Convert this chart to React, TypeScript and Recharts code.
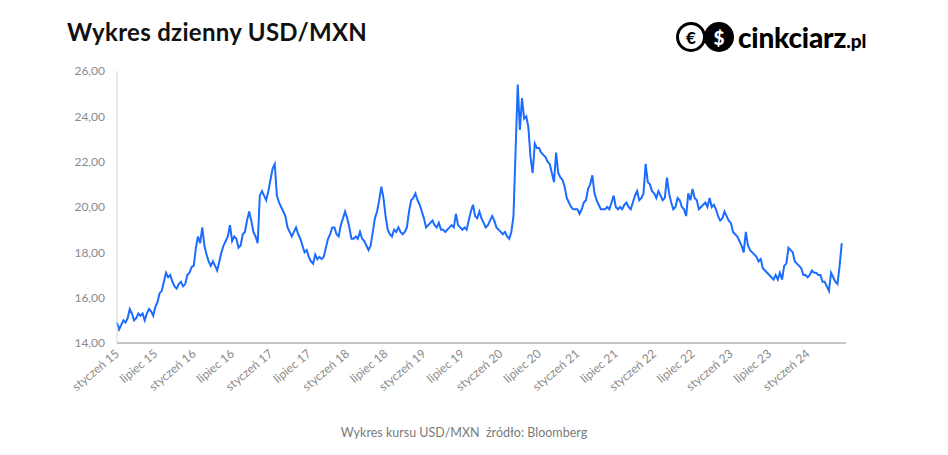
import React from 'react';
import { LineChart, Line, XAxis, YAxis } from 'recharts';

// USD/MXN, three readings a month (around the 1st, 11th and 21st)
const v2015 = [14.9, 14.6, 14.8, 15.0, 14.9, 15.1, 15.5, 15.3, 15.0, 15.1, 15.3, 15.2, 15.3, 15.0, 15.3, 15.5, 15.4, 15.2, 15.6, 15.8, 16.2, 16.3, 16.7, 17.1, 16.9, 17.0, 16.7, 16.5, 16.4, 16.6, 16.7, 16.5, 16.6, 17.0, 17.1, 17.35];
const v2016 = [17.4, 18.2, 18.7, 18.4, 19.1, 18.3, 17.9, 17.6, 17.4, 17.6, 17.4, 17.2, 17.6, 18.0, 18.3, 18.5, 18.7, 19.2, 18.5, 18.7, 18.6, 18.2, 18.3, 18.8, 18.9, 19.4, 19.8, 19.4, 18.9, 18.7, 18.4, 20.5, 20.7, 20.5, 20.3, 20.7];
const v2017 = [21.2, 21.7, 21.9, 20.5, 20.2, 20.0, 19.8, 19.6, 19.1, 18.9, 18.7, 18.9, 19.1, 18.8, 18.6, 18.3, 18.0, 18.1, 17.8, 17.6, 17.5, 17.9, 17.7, 17.8, 17.7, 17.8, 18.2, 18.6, 18.8, 19.1, 19.1, 18.8, 18.7, 19.2, 19.5, 19.8];
const v2018 = [19.5, 19.1, 18.6, 18.6, 18.7, 18.6, 18.9, 18.6, 18.5, 18.3, 18.1, 18.3, 18.9, 19.5, 19.8, 20.3, 20.9, 20.4, 19.6, 19.0, 18.8, 18.7, 19.0, 18.9, 19.1, 18.9, 18.8, 18.9, 19.1, 19.8, 20.3, 20.4, 20.6, 20.3, 20.1, 19.8];
const v2019 = [19.5, 19.1, 19.2, 19.3, 19.4, 19.2, 19.1, 19.3, 19.0, 19.0, 18.9, 19.0, 19.1, 19.2, 19.1, 19.7, 19.2, 19.1, 19.0, 19.1, 19.0, 19.4, 19.8, 20.1, 19.6, 19.5, 19.8, 19.5, 19.3, 19.1, 19.2, 19.4, 19.6, 19.4, 19.1, 19.0];
const v2020 = [18.9, 18.8, 18.9, 18.7, 18.6, 18.9, 19.6, 22.5, 25.4, 23.4, 24.8, 23.9, 24.0, 23.5, 22.2, 21.5, 22.8, 22.6, 22.6, 22.4, 22.3, 22.2, 22.0, 21.9, 21.5, 21.1, 22.4, 21.5, 21.3, 21.2, 20.9, 20.4, 20.2, 20.0, 19.9, 19.9];
const v2021 = [19.9, 19.7, 19.9, 20.2, 20.3, 20.8, 21.0, 21.4, 20.6, 20.3, 20.1, 19.9, 19.9, 19.9, 20.0, 19.9, 20.2, 20.5, 20.0, 19.9, 20.0, 19.9, 20.1, 20.2, 20.0, 19.9, 20.2, 20.5, 20.7, 20.3, 20.4, 20.6, 21.9, 21.1, 21.0, 20.7];
const v2022 = [20.6, 20.4, 20.7, 20.5, 20.3, 20.4, 21.3, 20.6, 20.2, 19.9, 20.0, 20.4, 20.3, 20.0, 19.9, 19.6, 20.6, 20.3, 20.8, 20.4, 20.3, 19.9, 20.0, 20.1, 20.2, 20.0, 20.4, 20.0, 20.1, 19.9, 19.6, 19.4, 19.5, 19.8, 19.6, 19.4];
const v2023 = [19.3, 18.9, 18.8, 18.7, 18.5, 18.3, 18.0, 18.9, 18.3, 18.1, 18.0, 17.9, 17.8, 17.6, 17.7, 17.3, 17.2, 17.1, 17.0, 16.9, 16.8, 17.0, 16.8, 17.1, 16.8, 17.4, 17.5, 18.2, 18.1, 18.0, 17.6, 17.5, 17.4, 17.3, 17.0, 17.0];
const v2024 = [16.9, 17.0, 17.2, 17.1, 17.1, 17.0, 17.0, 16.7, 16.7, 16.5, 16.3, 17.1, 16.9, 16.7, 16.6, 17.4, 18.4];

const startYear = 2015;
const yearValues = [v2015, v2016, v2017, v2018, v2019, v2020, v2021, v2022, v2023, v2024];

const xTicks = [2015, 2015.5, 2016, 2016.5, 2017, 2017.5, 2018, 2018.5, 2019, 2019.5, 2020, 2020.5, 2021, 2021.5, 2022, 2022.5, 2023, 2023.5, 2024];
const xLabels = ['styczeń 15', 'lipiec 15', 'styczeń 16', 'lipiec 16', 'styczeń 17', 'lipiec 17', 'styczeń 18', 'lipiec 18', 'styczeń 19', 'lipiec 19', 'styczeń 20', 'lipiec 20', 'styczeń 21', 'lipiec 21', 'styczeń 22', 'lipiec 22', 'styczeń 23', 'lipiec 23', 'styczeń 24'];
const yTicks = [14, 16, 18, 20, 22, 24, 26];

const chartData = yearValues.flatMap((vals, yi) =>
  vals.map((v, i) => ({ t: startYear + yi + i / 36, rate: v }))
);

const FONT = 'Lato, "Noto Sans", sans-serif';

const XTick = ({ x, y, index }: any) => (
  <text
    x={x + 3}
    y={y + 4}
    textAnchor="end"
    fontSize={12}
    fontFamily={FONT}
    fill="#8a8a8a"
    transform={`rotate(-40 ${x + 3} ${y + 4})`}
  >
    {xLabels[index]}
  </text>
);

const Logo = () => (
  <div style={{ position: 'absolute', left: 676, top: 20, display: 'flex', alignItems: 'center' }}>
    <div
      style={{
        width: 24, height: 24, borderRadius: '50%', border: '3px solid #000', background: '#fff',
        display: 'flex', alignItems: 'center', justifyContent: 'center',
        fontFamily: FONT, fontWeight: 900, fontSize: 17, color: '#000'
      }}
    >
      €
    </div>
    <div
      style={{
        width: 30, height: 30, borderRadius: '50%', background: '#000', marginLeft: -2,
        display: 'flex', alignItems: 'center', justifyContent: 'center',
        fontFamily: FONT, fontWeight: 900, fontSize: 19, color: '#fff'
      }}
    >
      $
    </div>
    <span style={{ fontFamily: FONT, fontWeight: 900, fontSize: 28, color: '#000', marginLeft: 4, letterSpacing: -0.2 }}>
      cinkciarz
    </span>
    <span style={{ fontFamily: FONT, fontWeight: 900, fontSize: 19, color: '#000', marginTop: 6 }}>.pl</span>
  </div>
);

const App: React.FC = () => {
  return (
    <div style={{ position: 'absolute', left: 0, top: 0, width: 948, height: 455, background: '#fff', overflow: 'hidden' }}>
      <div
        style={{
          position: 'absolute', left: 67, top: 17, fontFamily: FONT, fontWeight: 700,
          fontSize: 24, letterSpacing: 0.3, color: '#111'
        }}
      >
        Wykres dzienny USD/MXN
      </div>
      <Logo />

      <div style={{ position: 'absolute', left: 0, top: 0 }}>
        <LineChart
          width={948}
          height={455}
          data={chartData}
          margin={{ top: 71, right: 102, left: 0, bottom: 52 }}
        >
          <XAxis
            dataKey="t"
            type="number"
            domain={[2015, 2024.5]}
            ticks={xTicks}
            interval={0}
            tick={<XTick />}
            tickLine={false}
            tickSize={0}
            tickMargin={8}
            height={60}
            stroke="#c4c4c4"
            strokeWidth={2}
          />
          <YAxis
            type="number"
            domain={[14, 26]}
            ticks={yTicks}
            width={117}
            tickLine={false}
            tickSize={0}
            tickMargin={12}
            stroke="#d6d6d6"
            tick={{ fontSize: 12, fill: '#8a8a8a', fontFamily: FONT }}
            tickFormatter={(v: number) => v.toFixed(2).replace('.', ',')}
          />
          <Line
            type="linear"
            dataKey="rate"
            stroke="#1b6cff"
            strokeWidth={2}
            dot={false}
            isAnimationActive={false}
          />
        </LineChart>
      </div>

      <div
        style={{
          position: 'absolute', left: -10, width: 948, top: 425, textAlign: 'center',
          fontFamily: FONT, fontSize: 12.5, color: '#7a7a7a'
        }}
      >
        Wykres kursu USD/MXN&nbsp;&nbsp;źródło: Bloomberg
      </div>
    </div>
  );
};

export default App;
